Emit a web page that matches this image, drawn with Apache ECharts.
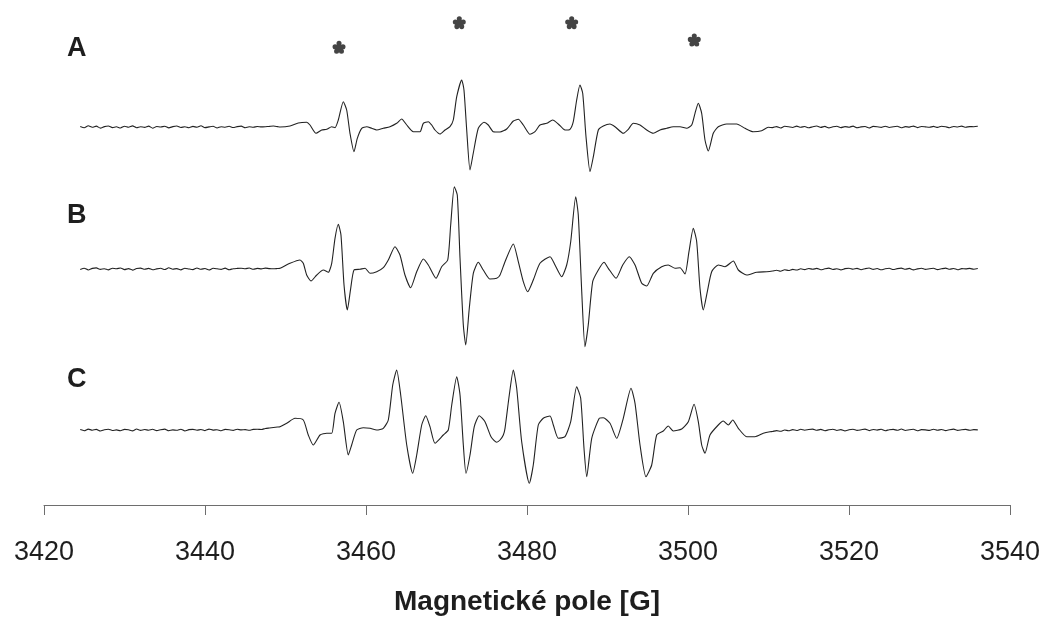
<!DOCTYPE html>
<html>
<head>
<meta charset="utf-8">
<script src="https://cdn.jsdelivr.net/npm/echarts@6/dist/echarts.min.js"></script>
<style>
  html, body { margin: 0; padding: 0; background: #ffffff; }
  #chart { width: 1045px; height: 617px; }
</style>
</head>
<body>
<div id="chart"></div>
<script>
// EPR spectra A, B, C: derivative signal (arbitrary units) vs. magnetic field [G]

// x-axis ticks
const fieldTicks = [3420, 3440, 3460, 3480, 3500, 3520, 3540];
const traceLabels = ['A', 'B', 'C'];

// flat baseline sections, sampled every 0.5 G
const noiseStep = 0.5;
const leftNoiseStart = 3424.5;   // ... up to 3449.0
const rightNoiseStart = 3510.5;  // ... up to 3536.0

const leftNoiseA = [
  0.5, -0.8, 1.2, -0.3, 0.9, -1.1, 0.4, 1.0, -0.6, 0.2,
  -1.0, 0.8, -0.2, 1.1, -0.7, 0.3, -0.4, 0.9, -1.2, 0.5,
  0.0, 0.7, -0.9, 0.4, 1.0, -0.5, 0.2, -0.8, 0.6, -0.3,
  1.2, -0.6, 0.1, 0.8, -1.0, 0.3, -0.2, 0.7, -0.5, 0.4,
  0.9, -0.7, 0.2, -0.3, 0.5, 0.1, 0.3, 0.6, 1.0, 0.4
];
const rightNoiseA = [
  -0.6, 0.4, -1.0, 0.7, 0.2, -0.5, 0.9, -0.3, 0.5, -0.8,
  0.3, 1.0, -0.4, 0.6, -0.9, 0.2, 0.8, -0.6, 0.4, -0.2,
  0.9, -0.7, 0.1, 0.5, -1.0, 0.6, 0.3, -0.4, 0.8, -0.5,
  0.2, 0.7, -0.8, 0.4, -0.1, 0.9, -0.6, 0.5, 0.1, -0.3,
  0.6, -0.4, 0.8, 0.2, -0.7, 0.5, 0.0, 0.9, -0.2, 0.4,
  0.3, 0.7
];
const leftNoiseB = [
  -0.5, 0.8, -1.0, 0.6, 1.1, -0.4, 0.3, -0.9, 0.7, 0.2,
  1.0, -0.6, 0.4, -1.1, 0.5, 0.9, -0.3, 0.6, -0.8, 0.1,
  0.7, -0.5, 1.2, -0.2, 0.4, -0.9, 0.8, 0.0, -0.6, 1.0,
  -0.3, 0.5, -1.0, 0.7, 0.2, -0.4, 0.9, -0.7, 0.3, 0.6,
  0.8, 0.2, 1.0, -0.3, 0.6, 0.1, 0.9, 0.4, 0.2, 0.5
];
const rightNoiseB = [
  -2.0, -1.2, -2.2, -0.8, -1.5, -0.4, -1.0, 0.2, -0.6, 0.5,
  -0.3, 0.6, -0.8, 0.2, 0.9, -0.5, 0.3, -0.9, 0.4, 0.8,
  -0.2, 0.6, -0.7, 0.3, 1.0, -0.4, 0.5, -0.8, 0.2, 0.7,
  -0.5, 0.4, 0.9, -0.3, 0.6, -0.9, 0.1, 0.8, -0.4, 0.3,
  0.7, -0.6, 0.2, 0.9, -0.2, 0.5, -0.7, 0.4, 0.1, 0.6,
  -0.3, 0.5
];
const leftNoiseC = [
  0.4, -0.7, 0.9, -0.2, 0.6, -1.0, 0.3, 0.8, -0.5, 0.1,
  -0.8, 0.6, 0.2, -0.9, 1.0, -0.4, 0.5, -0.2, 0.7, -0.6,
  0.3, 0.9, -0.7, 0.1, -0.3, 0.8, -1.0, 0.4, 0.6, -0.2,
  0.5, -0.6, 0.9, -0.1, 0.3, -0.8, 0.6, 0.2, -0.4, 0.7,
  0.1, 0.4, -0.3, 0.6, 0.8, 0.5, 1.5, 2.0, 2.5, 3.0
];
const rightNoiseC = [
  -1.5, -0.6, -1.3, 0.0, -0.8, 0.4, -0.5, 0.7, -0.2, 0.5,
  0.9, -0.3, 0.6, -0.7, 0.2, 0.8, -0.5, 0.4, -0.9, 0.3,
  0.7, -0.4, 0.2, 0.9, -0.6, 0.5, -0.1, 0.8, -0.7, 0.3,
  0.6, -0.3, 1.0, -0.5, 0.2, 0.7, -0.8, 0.4, 0.1, -0.4,
  0.8, -0.2, 0.5, -0.6, 0.3, 0.9, -0.4, 0.2, 0.6, -0.3,
  0.4, 0.1
];

// resonance region [field G, signal]
const linesA = [
  [3449.32,0],[3450.56,1],[3451.59,4],[3452.63,4.7],[3453.04,2],[3453.79,-6.3],[3454.50,-3],
  [3455.12,-2.3],[3455.74,0.3],[3456.15,-0.7],[3456.56,7],[3457.18,25.3],[3457.60,17],
  [3458.01,-6.3],[3458.51,-24.7],[3458.92,-11.3],[3459.47,-1.3],[3460.09,0.3],[3460.71,-1.3],
  [3461.33,-3],[3462.15,-1.3],[3462.98,0.3],[3463.81,3.7],[3464.43,8],[3465.06,2],[3465.88,-4.7],
  [3466.71,-4.7],[3467.12,3.7],[3467.74,5.3],[3468.16,2],[3468.57,-3],[3469.19,-7],[3469.81,-3],
  [3470.43,0.3],[3470.84,7],[3471.27,30.3],[3471.89,47],[3472.17,37],[3472.51,-3],[3472.92,-43],
  [3473.33,-26],[3473.95,-1.3],[3474.66,4.7],[3475.19,2],[3475.81,-4.7],[3476.65,-5],[3477.48,-2],
  [3478.30,6],[3478.92,7.7],[3479.54,2],[3480.37,-7.3],[3480.99,-4.7],[3481.61,2],[3482.45,3.7],
  [3483.19,7],[3483.89,3],[3484.72,-3],[3485.34,-2.3],[3485.75,5.3],[3486.17,27],[3486.58,42],
  [3486.92,33.7],[3487.33,-9.7],[3487.83,-44.7],[3488.24,-29.7],[3488.86,-3],[3489.48,1],
  [3490.31,3],[3490.93,0.3],[3491.96,-6.3],[3492.58,-2.3],[3493.20,3.7],[3494.04,2],[3494.87,-3],
  [3495.69,-6.3],[3496.52,-3],[3497.35,-1.3],[3498.17,0.3],[3499.01,0.3],[3499.84,-1.3],
  [3500.46,2],[3500.87,13.7],[3501.28,23.7],[3501.70,13.7],[3502.11,-13],[3502.52,-24],
  [3503.14,-6.3],[3503.76,0.3],[3504.81,3],[3506.05,3],[3507.08,-1.3],[3508.11,-4.7],
  [3509.15,-3.7],[3509.97,-0.3]
];
const linesB = [
  [3449.32,0.7],[3450.56,5.7],[3451.80,9],[3452.21,5.7],[3452.63,-6],[3453.17,-12],[3453.88,-6],
  [3454.70,-1],[3455.32,-3.3],[3455.74,5.7],[3456.15,30.7],[3456.56,44.7],[3456.89,34],
  [3457.27,-16],[3457.68,-41],[3458.10,-19.3],[3458.51,-1],[3459.25,-0.3],[3459.88,0.7],
  [3460.50,-4.3],[3461.33,-2.7],[3462.15,1.3],[3462.77,9],[3463.60,22.3],[3464.22,14],
  [3464.84,-6],[3465.55,-18.7],[3466.30,-2.7],[3467.12,10],[3467.74,4],[3468.70,-9.3],
  [3469.40,2.3],[3470.15,9],[3470.52,44],[3470.97,82.3],[3471.34,74],[3471.68,10.7],
  [3472.09,-56],[3472.39,-76],[3472.83,-39.3],[3473.33,-4.3],[3473.95,6.7],[3474.57,-1],
  [3475.40,-10],[3476.24,-9.3],[3476.65,-6],[3477.27,7.3],[3478.30,25],[3478.92,7.3],
  [3479.54,-12.7],[3480.09,-22.7],[3480.78,-11],[3481.61,5.7],[3482.86,12.3],[3483.48,4],
  [3484.31,-7.7],[3484.93,4],[3485.43,27.3],[3486.05,72.3],[3486.37,54],[3486.80,-22.7],
  [3487.20,-77.7],[3487.61,-56],[3488.16,-12.7],[3488.86,-1],[3489.57,6.7],[3490.10,0.7],
  [3491.06,-9.3],[3491.89,4],[3492.71,12.3],[3493.42,4],[3494.25,-14.3],[3494.87,-17],
  [3495.69,-4.3],[3496.73,2.3],[3497.55,4],[3498.39,0.7],[3499.01,1.3],[3499.63,-5],
  [3500.12,17.3],[3500.66,40.7],[3501.08,27.3],[3501.49,-19.3],[3501.90,-41],[3502.40,-22.7],
  [3502.94,-2.7],[3503.76,4],[3504.60,2.3],[3505.63,8],[3506.25,-1],[3507.29,-6],
  [3508.53,-3.3],[3509.78,-2.7]
];
const linesC = [
  [3449.32,3.3],[3450.15,6.7],[3451.18,11.7],[3452.21,10],[3452.83,-5],[3453.45,-15],
  [3454.29,-5],[3455.12,-3.3],[3455.74,-3.3],[3456.15,16.7],[3456.65,27.7],[3457.18,8.3],
  [3457.80,-25],[3458.22,-15],[3458.84,0],[3459.66,2.3],[3460.50,1.7],[3461.33,0],
  [3462.15,1.7],[3462.77,10],[3463.32,45],[3463.81,60],[3464.31,35],[3465.06,-15],
  [3465.80,-43.3],[3466.30,-25],[3466.92,5],[3467.42,14.3],[3467.95,3.3],[3468.57,-13.3],
  [3469.60,-5],[3470.22,0],[3470.65,25],[3471.27,53.3],[3471.68,35],[3472.09,-15],
  [3472.42,-43.3],[3472.92,-25],[3473.45,3.3],[3474.07,14.3],[3474.78,8.3],[3475.53,-6.7],
  [3476.24,-12.3],[3476.65,-10],[3477.06,-5],[3477.27,1.7],[3477.80,35],[3478.30,60],
  [3478.72,41.7],[3479.34,-11.7],[3480.29,-53.3],[3480.78,-35],[3481.40,5],[3482.02,11.7],
  [3482.86,14],[3483.27,5],[3483.89,-8.3],[3484.72,-6.7],[3485.43,8.3],[3486.17,43.3],
  [3486.67,31.7],[3487.08,-18.3],[3487.42,-46.7],[3488.04,-8.3],[3488.98,11.7],[3489.48,12.3],
  [3490.31,6.7],[3491.14,-8.3],[3491.96,11.7],[3492.92,41.7],[3493.42,26.7],[3494.04,-15],
  [3494.78,-46.7],[3495.49,-35],[3496.11,-5],[3496.93,-1],[3497.55,4],[3498.17,-1],
  [3499.22,1],[3500.04,8.3],[3500.75,25.7],[3501.28,8.3],[3501.70,-15],[3502.11,-23.3],
  [3502.73,-5],[3503.76,5],[3504.38,9],[3505.01,5],[3505.55,10],[3506.25,1.7],
  [3507.29,-6.7],[3508.32,-6.7],[3509.35,-3.3],[3510.19,-1.7]
];

// marked lines (asterisks above spectrum A): [field G, height]
const markedLines = [[3456.65, 79.7], [3471.59, 104.3], [3485.55, 104.3], [3500.78, 87]];

function sampled(start, values) {
  return values.map((v, i) => [start + i * noiseStep, v]);
}
function trace(left, lines, right) {
  return sampled(leftNoiseStart, left).concat(lines, sampled(rightNoiseStart, right));
}

// five-petal asterisk marker built from circles
function circle(cx, cy, r) {
  return 'M' + (cx - r) + ' ' + cy + ' a' + r + ' ' + r + ' 0 1 0 ' + (2 * r) + ' 0' +
         ' a' + r + ' ' + r + ' 0 1 0 ' + (-2 * r) + ' 0 Z ';
}
const flowerPath = 'path://' +
  circle(6, 2.4, 2.3) + circle(2.4, 5.4, 2.3) + circle(9.6, 5.4, 2.3) +
  circle(3.8, 9.5, 2.3) + circle(8.2, 9.5, 2.3) + circle(6, 6.3, 2.4);

const FONT = '"Liberation Sans", Arial, Helvetica, sans-serif';
const AXIS_MIN = fieldTicks[0];
const AXIS_MAX = fieldTicks[fieldTicks.length - 1];
const TICK_STEP = fieldTicks[1] - fieldTicks[0];

const grids = [
  { left: 44, right: 35, top: 10, height: 177 },
  { left: 44, right: 35, top: 180, height: 179 },
  { left: 44, right: 35, top: 359, height: 146 }
];
const yRanges = [[-60, 117], [-90, 89], [-75, 71]];

const xAxes = grids.map((g, i) => {
  const visible = i === 2;
  return {
    type: 'value', gridIndex: i, min: AXIS_MIN, max: AXIS_MAX, interval: TICK_STEP,
    show: visible,
    axisLine: { show: visible, onZero: false, lineStyle: { color: '#6e6e6e', width: 1 } },
    axisTick: { show: visible, length: 10, lineStyle: { color: '#6e6e6e', width: 1 } },
    axisLabel: { show: visible, fontSize: 27, color: '#1e1e1e', fontFamily: FONT, margin: 34,
                 formatter: v => String(v) },
    splitLine: { show: false },
    name: visible ? 'Magnetické pole [G]' : '',
    nameLocation: 'middle', nameGap: 83,
    nameTextStyle: { fontSize: 28, fontWeight: 'bold', color: '#1e1e1e', fontFamily: FONT }
  };
});
const yAxes = yRanges.map((r, i) => ({
  type: 'value', gridIndex: i, min: r[0], max: r[1], show: false, splitLine: { show: false }
}));

const spectra = [
  trace(leftNoiseA, linesA, rightNoiseA),
  trace(leftNoiseB, linesB, rightNoiseB),
  trace(leftNoiseC, linesC, rightNoiseC)
];

const series = spectra.map((d, i) => ({
  name: traceLabels[i], type: 'line', xAxisIndex: i, yAxisIndex: i, data: d,
  showSymbol: false, symbol: 'none', smooth: 0.2, clip: false,
  lineStyle: { color: '#222222', width: 1.1 }
}));
series.push({
  type: 'scatter', xAxisIndex: 0, yAxisIndex: 0, data: markedLines,
  symbol: flowerPath, symbolSize: [13, 13], symbolKeepAspect: true,
  itemStyle: { color: '#151515' }
});

const labelY = [49, 216, 380];
const chart = echarts.init(document.getElementById('chart'), null, { renderer: 'canvas' });
chart.setOption({
  animation: false,
  backgroundColor: '#ffffff',
  grid: grids,
  xAxis: xAxes,
  yAxis: yAxes,
  series: series,
  graphic: traceLabels.map((t, i) => ({
    type: 'text', left: 67, top: labelY[i] - 14,
    style: { text: t, fontSize: 27, fontWeight: 'bold', fill: '#1e1e1e', fontFamily: FONT }
  }))
});
</script>
</body>
</html>
